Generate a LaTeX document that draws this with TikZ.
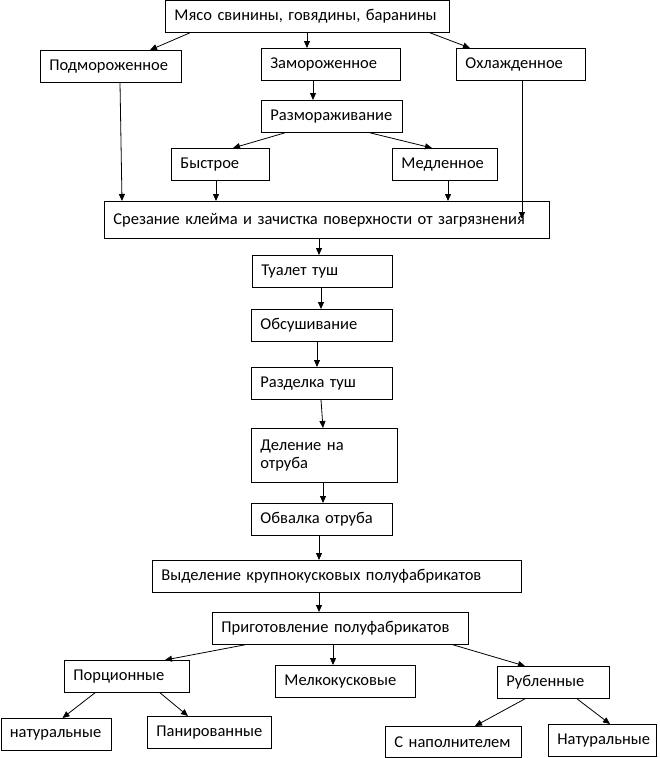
\documentclass[tikz,border=0pt]{standalone}
\usepackage{fontspec}
\setmainfont{Carlito}
\usetikzlibrary{arrows.meta}
\begin{document}
\begin{tikzpicture}[x=1pt,y=-1pt,
  box/.style={draw,line width=0.8pt,anchor=north west,inner xsep=9pt,inner ysep=0pt,align=left,font=\fontsize{16.5}{18}\selectfont},
  arr/.style={line width=0.8pt,-{Triangle[length=7pt,width=6pt]}}]
\useasboundingbox (0,0) rectangle (659,758);
\newcommand\bx[6]{\node[box,minimum width=#4-#2,minimum height=#5-#3,text width=#4-#2-18] (#1) at (#2,#3) {#6};}
\bx{a}{165}{0}{449}{32}{Мясо свинины, говядины, баранины}
\bx{b}{40}{50}{181}{82}{Подмороженное}
\bx{c}{261}{48}{400}{80}{Замороженное}
\bx{d}{456}{48}{585}{80}{Охлажденное}
\bx{e}{261}{100}{402}{132}{Размораживание}
\bx{f}{171}{148}{269}{180}{Быстрое}
\bx{g}{392}{148}{497}{180}{Медленное}
\bx{h}{104}{201}{549}{238}{Срезание клейма и зачистка поверхности от загрязнения}
\bx{i}{252}{255}{392}{287}{Туалет туш}
\bx{j}{251}{309}{392}{341}{Обсушивание}
\bx{k}{251}{367}{392}{399}{Разделка туш}
\bx{l}{251}{428}{397}{482}{Деление на\\отруба}
\bx{m}{251}{503}{392}{535}{Обвалка отруба}
\bx{n}{152}{560}{521}{592}{Выделение крупнокусковых полуфабрикатов}
\bx{o}{212}{612}{468}{644}{Приготовление полуфабрикатов}
\bx{p}{64}{660}{189}{692}{Порционные}
\bx{q}{275}{665}{415}{697}{Мелкокусковые}
\bx{r}{497}{666}{609}{698}{Рубленные}
\bx{s}{0.5}{718}{111}{750}{натуральные}
\bx{t}{147}{716}{271}{748}{Панированные}
\bx{u}{385}{726}{521}{757}{С наполнителем}
\bx{v}{548}{724}{656}{756}{Натуральные}
\newcommand\ar[4]{\draw[arr] ([xshift=#2]#1.south west) -- ([xshift=#4]#3.north west);}
\ar{a}{25}{b}{110} \ar{a}{142}{c}{46} \ar{a}{265}{d}{14}
\ar{c}{52}{e}{52}
\ar{e}{24}{f}{62} \ar{e}{109}{g}{40}
\ar{b}{80}{h}{18} \ar{f}{45}{h}{112} \ar{g}{56}{h}{344}
\draw[arr] ([xshift=66]d.south west) -- (522,219);
\ar{h}{215}{i}{67} \ar{i}{69}{j}{70} \ar{j}{66}{k}{66} \ar{k}{70}{l}{72}
\ar{l}{72}{m}{72} \ar{m}{68}{n}{167} \ar{n}{167}{o}{107}
\ar{o}{33}{p}{101} \ar{o}{121}{q}{58} \ar{o}{241}{r}{28}
\ar{p}{31}{s}{62} \ar{p}{96}{t}{41} \ar{r}{28}{u}{90} \ar{r}{80}{v}{62}
\end{tikzpicture}
\end{document}
